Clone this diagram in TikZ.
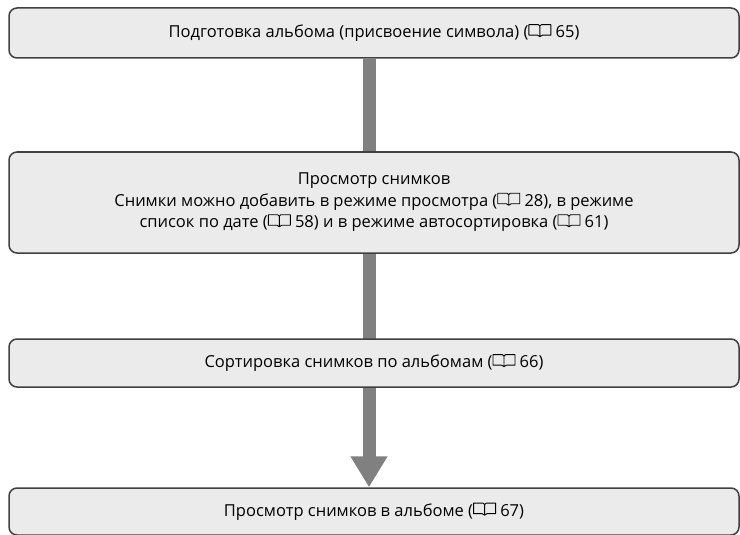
\documentclass[tikz,border=0pt]{standalone}
\usepackage{fontspec}
\setmainfont{Open Sans}
\usetikzlibrary{arrows.meta,backgrounds}

\newcommand\bookicon{\tikz[baseline=-1.2pt,x=1pt,y=1pt,line width=0.9pt,line join=round,sharp corners]
  \draw[draw=black] (0,1.5) -- (0,12) -- (9.5,12) -- (11,10.5) -- (12.5,12) -- (22,12) -- (22,1.5)
    -- (13.5,1.5) -- (11,0) -- (8.5,1.5) -- cycle (11,10.5) -- (11,0.5);}

\tikzset{
  stage/.style={draw=black!75, fill=black!8, line width=1.5pt, rounded corners=8pt,
    minimum width=730pt, align=center, font=\fontsize{16.5}{21.5}\selectfont},
  flow/.style={line width=13pt, draw=black!50,
    -{Triangle[width=35pt,length=31pt]}}
}

\begin{document}
\begin{tikzpicture}[x=1pt,y=1pt]
\useasboundingbox (0,0) rectangle (740,-535);
\node[stage, minimum height=50pt] (album) at (374,-33) {Подготовка альбома (присвоение символа) (\bookicon{} 65)};
\node[stage, minimum height=101pt] (view) at (374,-202.5) {Просмотр снимков\\
  Снимки можно добавить в режиме просмотра (\bookicon{} 28), в режиме\\
  список по дате (\bookicon{} 58) и в режиме автосортировка (\bookicon{} 61)};
\node[stage, minimum height=48pt] (sort) at (374,-363) {Сортировка снимков по альбомам (\bookicon{} 66)};
\node[stage, minimum height=47pt] (show) at (374,-511.5) {Просмотр снимков в альбоме (\bookicon{} 67)};
\coordinate (axis) at (369,0);
\begin{scope}[on background layer]
\draw[flow] (album.south -| axis) -- (show.north -| axis);
\end{scope}
\end{tikzpicture}
\end{document}
